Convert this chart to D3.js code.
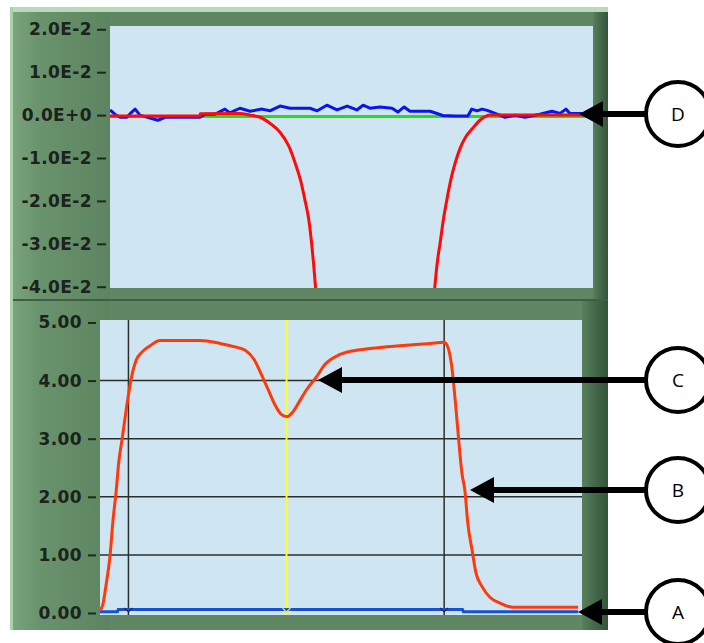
<!DOCTYPE html>
<html>
<head>
<meta charset="utf-8">
<script src="https://cdn.jsdelivr.net/npm/d3@7"></script>
<style>
  html, body { margin: 0; padding: 0; background: #ffffff; }
  svg { display: block; }
</style>
</head>
<body>
<svg id="chart" width="704" height="643"></svg>
<script>
// ---------------- DATA ----------------
// Top graph (sample index 0..100, value)
const topTicks = [0.02, 0.01, 0, -0.01, -0.02, -0.03, -0.04];
const topTickLabels = ["2.0E-2", "1.0E-2", "0.0E+0", "-1.0E-2", "-2.0E-2", "-3.0E-2", "-4.0E-2"];

const topRedX = [0, 18.6, 18.7, 26.9, 29.0, 31.1, 33.1, 35.2, 37.0, 38.4, 39.5, 40.4, 41.1, 41.7, 42.1, 42.5, 42.9,
                 66.8, 67.3, 67.8, 68.4, 69.0, 69.7, 70.5, 71.4, 72.5, 73.7, 75.0, 76.6, 78.7, 100];
const topRedY = [-0.0002, -0.0002, 0.0003, 0.0004, 0.0000, -0.0005, -0.0019, -0.0040, -0.0072, -0.0114, -0.0154, -0.0200, -0.0240, -0.0294, -0.0340, -0.0394, -0.0460,
                 -0.0460, -0.0394, -0.0340, -0.0294, -0.0245, -0.0200, -0.0154, -0.0114, -0.0077, -0.0050, -0.0032, -0.0012, 0.0000, 0.0000];

const topGreenX = [0, 100];
const topGreenY = [-0.0003, -0.0003];

const topBlueX = [0, 1.0, 2.1, 3.5, 4.4, 5.2, 6.2, 8.3, 9.9, 11.4, 12.4, 18.6, 19.7, 21.7, 23.8, 24.8, 26.9, 29.0, 31.5, 33.1, 35.2, 37.3, 39.3, 41.4, 42.9,
                  44.9, 47.0, 49.1, 51.1, 52.4, 53.8, 55.9, 58.4, 59.6, 60.9, 62.1, 66.3, 68.9, 71.4, 74.1, 74.9, 76.0, 77.0, 78.1, 80.7, 81.8, 83.9, 85.9, 89.0, 91.5, 93.2, 94.4, 95.2, 97.3, 100];
const topBlueY = [0.0012, 0.0002, -0.0005, -0.0005, 0.0006, 0.0014, 0.0000, -0.0007, -0.0012, -0.0005, -0.0005, -0.0005, 0.0002, 0.0002, 0.0014, 0.0005, 0.0016, 0.0009, 0.0014, 0.0010, 0.0021, 0.0016, 0.0016, 0.0016, 0.0010,
                  0.0023, 0.0012, 0.0021, 0.0012, 0.0023, 0.0016, 0.0019, 0.0016, 0.0007, 0.0019, 0.0009, 0.0009, -0.0001, -0.0002, -0.0002, 0.0014, 0.0010, 0.0014, 0.0011, 0.0000, -0.0005, 0.0000, -0.0005, 0.0002, 0.0009, 0.0004, 0.0014, 0.0004, 0.0004, 0.0002];

// Bottom graph
const botTicks = [5, 4, 3, 2, 1, 0];
const botTickLabels = ["5.00", "4.00", "3.00", "2.00", "1.00", "0.00"];
const botGrid = [1, 2, 3, 4];

const botRedX = [0, 0.6, 1.2, 2.1, 2.7, 3.3, 3.9, 4.6, 5.8, 6.4, 7.5, 8.7, 10.4, 12.4, 20.7, 24.9, 28.0, 30.2, 32.0, 33.4, 34.8, 36.2, 37.6, 38.8, 40.0,
                 41.5, 43.0, 44.8, 46.7, 49.8, 53.9, 58.1, 62.2, 68.5, 71.4, 72.2, 73.0, 73.7, 74.3, 75.1, 75.7, 76.3, 77.2, 78.0, 79.3, 80.9, 83.0, 85.5, 99.2];
const botRedY = [0.05, 0.15, 0.45, 1.0, 1.6, 2.05, 2.6, 3.0, 3.7, 4.0, 4.35, 4.49, 4.6, 4.69, 4.69, 4.64, 4.58, 4.52, 4.36, 4.12, 3.86, 3.6, 3.42, 3.38, 3.46,
                 3.66, 3.86, 4.05, 4.28, 4.45, 4.53, 4.57, 4.6, 4.64, 4.66, 4.57, 4.23, 3.66, 3.09, 2.4, 2.11, 1.55, 1.08, 0.69, 0.45, 0.27, 0.17, 0.1, 0.1];

const botBlueX = [0, 3.6, 3.8, 75.2, 75.4, 99.2];
const botBlueY = [0.02, 0.02, 0.06, 0.06, 0.02, 0.02];

const cursorsDark = [5.9, 71.4];
const cursorYellow = [38.7];

const annotations = [
  { label: "D", y: 114, tip: 579 },
  { label: "C", y: 380, tip: 318 },
  { label: "B", y: 490, tip: 470 },
  { label: "A", y: 612, tip: 578 }
];

// ---------------- DRAW ----------------
const svg = d3.select("#chart");
const defs = svg.append("defs");

const gl = defs.append("linearGradient").attr("id", "leftGrad").attr("x1", 0).attr("x2", 1).attr("y1", 0).attr("y2", 0);
gl.append("stop").attr("offset", "0%").attr("stop-color", "#7aa47c");
gl.append("stop").attr("offset", "25%").attr("stop-color", "#6a946d");
gl.append("stop").attr("offset", "100%").attr("stop-color", "#5c8460");

const gr = defs.append("linearGradient").attr("id", "rightGrad").attr("x1", 0).attr("x2", 1).attr("y1", 0).attr("y2", 0);
gr.append("stop").attr("offset", "0%").attr("stop-color", "#58805c");
gr.append("stop").attr("offset", "50%").attr("stop-color", "#44684a");
gr.append("stop").attr("offset", "100%").attr("stop-color", "#34543a");

// Frame background
svg.append("rect").attr("x", 10).attr("y", 7).attr("width", 598).attr("height", 623).attr("fill", "#5f8763");
svg.append("rect").attr("x", 10).attr("y", 7).attr("width", 598).attr("height", 5).attr("fill", "#b6dbb6");
svg.append("rect").attr("x", 10).attr("y", 7).attr("width", 3).attr("height", 623).attr("fill", "#a8d2a8");
svg.append("rect").attr("x", 13).attr("y", 12).attr("width", 97).attr("height", 618).attr("fill", "url(#leftGrad)");
svg.append("rect").attr("x", 593).attr("y", 12).attr("width", 15).attr("height", 288).attr("fill", "url(#rightGrad)");
svg.append("rect").attr("x", 582).attr("y", 300).attr("width", 26).attr("height", 330).attr("fill", "url(#rightGrad)");
svg.append("rect").attr("x", 13).attr("y", 299).attr("width", 595).attr("height", 2).attr("fill", "#3f5f44");

// Plot areas
const topP = { x0: 110, x1: 593, y0: 26, y1: 288 };
const botP = { x0: 100, x1: 582, y0: 320, y1: 615 };

svg.append("rect").attr("x", topP.x0).attr("y", topP.y0).attr("width", topP.x1 - topP.x0).attr("height", topP.y1 - topP.y0).attr("fill", "#cfe5f2");
svg.append("rect").attr("x", botP.x0).attr("y", botP.y0).attr("width", botP.x1 - botP.x0).attr("height", botP.y1 - botP.y0).attr("fill", "#cfe5f2");

defs.append("clipPath").attr("id", "clipTop").append("rect")
  .attr("x", topP.x0).attr("y", topP.y0).attr("width", topP.x1 - topP.x0).attr("height", topP.y1 - topP.y0);
defs.append("clipPath").attr("id", "clipBot").append("rect")
  .attr("x", botP.x0).attr("y", botP.y0).attr("width", botP.x1 - botP.x0).attr("height", botP.y1 - botP.y0);

// Scales
const xTop = d3.scaleLinear().domain([0, 100]).range([topP.x0, topP.x1]);
const yTop = d3.scaleLinear().domain([-0.04, 0.02]).range([286.7, 29.3]);
const xBot = d3.scaleLinear().domain([0, 100]).range([botP.x0, botP.x1]);
const yBot = d3.scaleLinear().domain([0, 5]).range([613, 322.5]);

// Axes
function styleAxis(g) {
  g.select(".domain").remove();
  g.selectAll(".tick line").attr("stroke", "#1e2a1e").attr("stroke-width", 2);
  g.selectAll(".tick text")
    .attr("fill", "#1c221c")
    .style("font-family", "'DejaVu Sans', sans-serif")
    .style("font-size", "17px")
    .style("font-weight", "bold")
    .style("letter-spacing", "0.4px");
}
svg.append("g").attr("transform", "translate(106,0)")
  .call(d3.axisLeft(yTop).tickValues(topTicks).tickSize(9).tickPadding(5)
    .tickFormat((d, i) => topTickLabels[i]))
  .call(styleAxis);
svg.append("g").attr("transform", "translate(96,0)")
  .call(d3.axisLeft(yBot).tickValues(botTicks).tickSize(8).tickPadding(6)
    .tickFormat((d, i) => botTickLabels[i]))
  .call(styleAxis);

// Top graph lines
const gTop = svg.append("g").attr("clip-path", "url(#clipTop)");
const lineTop = (xs) => d3.line().x((d, i) => xTop(xs[i])).y(d => yTop(d));
gTop.append("path").datum(topGreenY).attr("d", lineTop(topGreenX)).attr("fill", "none").attr("stroke", "#22dd22").attr("stroke-width", 3);
gTop.append("path").datum(topBlueY).attr("d", lineTop(topBlueX)).attr("fill", "none").attr("stroke", "#0a14f0").attr("stroke-width", 3).attr("stroke-linejoin", "round");
gTop.append("path").datum(topRedY).attr("d", d3.line().curve(d3.curveMonotoneX).x((d, i) => xTop(topRedX[i])).y(d => yTop(d)))
  .attr("fill", "none").attr("stroke", "#ff0a0a").attr("stroke-width", 3);

// Bottom graph
const gBot = svg.append("g").attr("clip-path", "url(#clipBot)");
gBot.selectAll("line.hgrid").data(botGrid).enter().append("line")
  .attr("x1", botP.x0).attr("x2", botP.x1)
  .attr("y1", d => yBot(d)).attr("y2", d => yBot(d))
  .attr("stroke", "#2a2f2e").attr("stroke-width", 1.5);
gBot.selectAll("line.cur").data(cursorsDark).enter().append("line")
  .attr("x1", d => xBot(d)).attr("x2", d => xBot(d))
  .attr("y1", botP.y0).attr("y2", botP.y1)
  .attr("stroke", "#2a2f2e").attr("stroke-width", 1.5);
gBot.selectAll("line.curY").data(cursorYellow).enter().append("line")
  .attr("x1", d => xBot(d)).attr("x2", d => xBot(d))
  .attr("y1", botP.y0).attr("y2", botP.y1)
  .attr("stroke", "#ffff20").attr("stroke-width", 2);

gBot.append("path").datum(botBlueY)
  .attr("d", d3.line().x((d, i) => xBot(botBlueX[i])).y(d => yBot(d)))
  .attr("fill", "none").attr("stroke", "#1450d8").attr("stroke-width", 3);
gBot.append("path").datum(botRedY)
  .attr("d", d3.line().curve(d3.curveMonotoneX).x((d, i) => xBot(botRedX[i])).y(d => yBot(d)))
  .attr("fill", "none").attr("stroke", "#ff3a0a").attr("stroke-width", 3);

// Cursor markers at the bottom
const allCursors = cursorsDark.map(c => ({ x: c, col: "#2a2f2e" })).concat(cursorYellow.map(c => ({ x: c, col: "#e8e820" })));
gBot.selectAll("path.mark").data(allCursors).enter().append("path")
  .attr("d", d => `M${xBot(d.x) - 4},${yBot(0) - 5} L${xBot(d.x)},${yBot(0) - 1} L${xBot(d.x) + 4},${yBot(0) - 5}`)
  .attr("fill", "none").attr("stroke", d => d.col).attr("stroke-width", 1.2);

// Annotations
const ann = svg.append("g");
annotations.forEach(a => {
  ann.append("line").attr("x1", a.tip + 20).attr("x2", 646).attr("y1", a.y).attr("y2", a.y)
    .attr("stroke", "#000").attr("stroke-width", 6);
  ann.append("path").attr("d", `M${a.tip},${a.y} L${a.tip + 24},${a.y - 13} L${a.tip + 24},${a.y + 13} Z`).attr("fill", "#000");
  ann.append("circle").attr("cx", 678).attr("cy", a.y).attr("r", 32)
    .attr("fill", "#fff").attr("stroke", "#000").attr("stroke-width", 4);
  ann.append("text").attr("x", 678).attr("y", a.y).attr("dy", "0.36em")
    .attr("text-anchor", "middle")
    .style("font-family", "'Open Sans', 'DejaVu Sans', sans-serif")
    .style("font-size", "19px")
    .attr("fill", "#000").text(a.label);
});
</script>
</body>
</html>
